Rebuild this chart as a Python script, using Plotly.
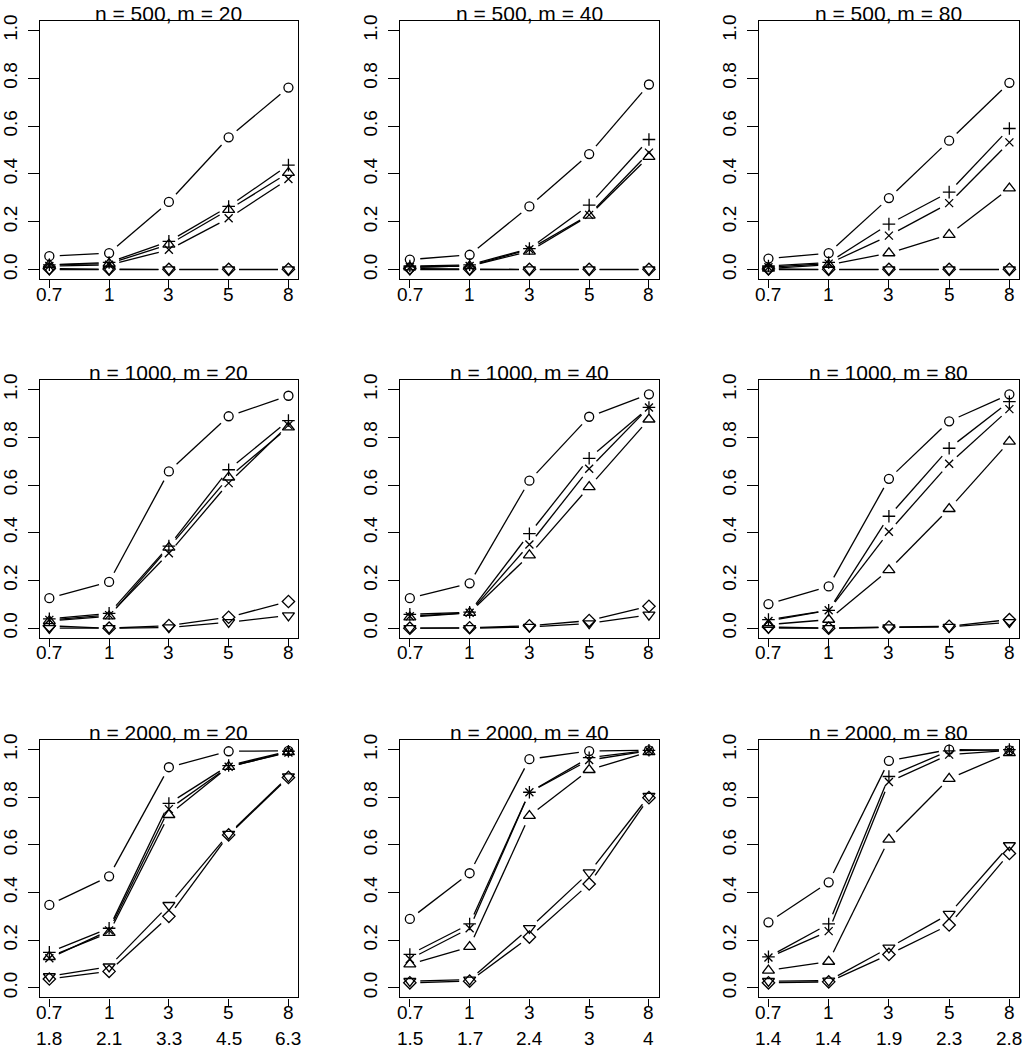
import plotly.graph_objects as go

# ---------------- data ----------------
x_labels = ["0.7", "1", "3", "5", "8"]
second_labels_m20 = ["1.8", "2.1", "3.3", "4.5", "6.3"]
second_labels_m40 = ["1.5", "1.7", "2.4", "3", "4"]
second_labels_m80 = ["1.4", "1.4", "1.9", "2.3", "2.8"]
y_ticks = [0.0, 0.2, 0.4, 0.6, 0.8, 1.0]
y_tick_labels = ["0.0", "0.2", "0.4", "0.6", "0.8", "1.0"]
n_values = [500, 1000, 2000]
m_values = [20, 40, 80]

n500_m20 = dict(
    circle=[0.056, 0.069, 0.283, 0.553, 0.761],
    plus=[0.020, 0.030, 0.118, 0.264, 0.437],
    cross=[0.015, 0.020, 0.083, 0.215, 0.379],
    tri_up=[0.020, 0.025, 0.105, 0.250, 0.405],
    diamond=[0.004, 0.002, 0.001, 0.001, 0.001],
    tri_down=[0.000, 0.000, 0.000, 0.000, 0.000],
)
n500_m40 = dict(
    circle=[0.042, 0.062, 0.264, 0.483, 0.774],
    plus=[0.015, 0.020, 0.088, 0.270, 0.544],
    cross=[0.010, 0.015, 0.085, 0.229, 0.489],
    tri_up=[0.010, 0.015, 0.076, 0.226, 0.472],
    diamond=[0.005, 0.002, 0.001, 0.001, 0.001],
    tri_down=[0.000, 0.000, 0.000, 0.000, 0.000],
)
n500_m80 = dict(
    circle=[0.046, 0.069, 0.299, 0.539, 0.781],
    plus=[0.015, 0.030, 0.190, 0.324, 0.590],
    cross=[0.010, 0.025, 0.142, 0.278, 0.532],
    tri_up=[0.005, 0.020, 0.069, 0.146, 0.340],
    diamond=[0.003, 0.001, 0.001, 0.001, 0.001],
    tri_down=[0.000, 0.000, 0.000, 0.000, 0.000],
)
n1000_m20 = dict(
    circle=[0.126, 0.194, 0.657, 0.888, 0.974],
    plus=[0.039, 0.062, 0.344, 0.664, 0.870],
    cross=[0.035, 0.055, 0.314, 0.608, 0.851],
    tri_up=[0.030, 0.050, 0.338, 0.632, 0.842],
    diamond=[0.010, 0.000, 0.011, 0.046, 0.112],
    tri_down=[0.000, 0.000, 0.003, 0.025, 0.053],
)
n1000_m40 = dict(
    circle=[0.126, 0.188, 0.618, 0.886, 0.980],
    plus=[0.058, 0.067, 0.396, 0.712, 0.925],
    cross=[0.050, 0.065, 0.351, 0.668, 0.925],
    tri_up=[0.046, 0.065, 0.306, 0.592, 0.875],
    diamond=[0.000, 0.002, 0.010, 0.032, 0.092],
    tri_down=[0.000, 0.000, 0.005, 0.020, 0.056],
)
n1000_m80 = dict(
    circle=[0.101, 0.175, 0.626, 0.867, 0.980],
    plus=[0.036, 0.075, 0.469, 0.754, 0.949],
    cross=[0.030, 0.075, 0.404, 0.689, 0.918],
    tri_up=[0.015, 0.036, 0.244, 0.500, 0.782],
    diamond=[0.005, 0.000, 0.005, 0.008, 0.036],
    tri_down=[0.000, 0.000, 0.003, 0.005, 0.025],
)
n2000_m20 = dict(
    circle=[0.348, 0.468, 0.926, 0.993, 0.995],
    plus=[0.149, 0.250, 0.774, 0.933, 0.993],
    cross=[0.124, 0.241, 0.750, 0.928, 0.988],
    tri_up=[0.130, 0.231, 0.726, 0.928, 0.990],
    diamond=[0.037, 0.069, 0.300, 0.642, 0.883],
    tri_down=[0.048, 0.089, 0.347, 0.646, 0.887],
)
n2000_m40 = dict(
    circle=[0.289, 0.481, 0.960, 0.994, 0.997],
    plus=[0.140, 0.268, 0.821, 0.966, 0.997],
    cross=[0.121, 0.250, 0.821, 0.956, 0.995],
    tri_up=[0.099, 0.172, 0.722, 0.915, 0.990],
    diamond=[0.021, 0.028, 0.213, 0.436, 0.798],
    tri_down=[0.028, 0.034, 0.250, 0.484, 0.805],
)
n2000_m80 = dict(
    circle=[0.275, 0.443, 0.953, 1.000, 0.997],
    plus=[0.130, 0.268, 0.887, 0.995, 1.000],
    cross=[0.127, 0.238, 0.864, 0.979, 0.997],
    tri_up=[0.073, 0.110, 0.623, 0.878, 0.986],
    diamond=[0.021, 0.025, 0.140, 0.264, 0.564],
    tri_down=[0.028, 0.030, 0.168, 0.310, 0.598],
)

panels = [
    [n500_m20, n500_m40, n500_m80],
    [n1000_m20, n1000_m40, n1000_m80],
    [n2000_m20, n2000_m40, n2000_m80],
]
second_labels = [second_labels_m20, second_labels_m40, second_labels_m80]

# ---------------- styling ----------------
W, H = 1022, 1050
col_px = [(33, 293), (396, 656), (757, 1019)]
row_px = [(15, 275), (376.5, 636), (739, 998)]
x_range = [0.84, 5.16]
y_range = [-0.04, 1.04]
FONT = "Liberation Sans, Arial, sans-serif"
TICK_SIZE = 19
TITLE_SIZE = 21
GAP = 10.5
LW = 1.3

marker_style = {
    "circle": dict(symbol="circle-open", size=9),
    "plus": dict(symbol="cross-thin-open", size=9),
    "cross": dict(symbol="x-thin-open", size=8),
    "tri_up": dict(symbol="triangle-up-open", size=10.5),
    "diamond": dict(symbol="diamond-open", size=9.5),
    "tri_down": dict(symbol="triangle-down-open", size=10.5),
}
series_order = ["circle", "plus", "cross", "tri_up", "diamond", "tri_down"]

fig = go.Figure()
layout = dict(
    width=W, height=H, margin=dict(l=0, r=0, t=0, b=0),
    paper_bgcolor="white", plot_bgcolor="white", showlegend=False,
    font=dict(family=FONT, color="black", size=TICK_SIZE),
)
annotations = []


def gapped(xs, ys, ppx, ppy, gap):
    sx, sy = [], []
    for i in range(len(xs) - 1):
        dx = (xs[i + 1] - xs[i]) * ppx
        dy = (ys[i + 1] - ys[i]) * ppy
        L = (dx * dx + dy * dy) ** 0.5
        if L <= 2 * gap:
            continue
        f = gap / L
        sx += [xs[i] + (xs[i + 1] - xs[i]) * f, xs[i + 1] - (xs[i + 1] - xs[i]) * f, None]
        sy += [ys[i] + (ys[i + 1] - ys[i]) * f, ys[i + 1] - (ys[i + 1] - ys[i]) * f, None]
    return sx, sy


x_idx = list(range(1, len(x_labels) + 1))
tick_font = dict(family=FONT, size=TICK_SIZE, color="black")

for r in range(3):
    for c in range(3):
        k = r * 3 + c + 1
        xa = "x" if k == 1 else f"x{k}"
        ya = "y" if k == 1 else f"y{k}"
        x0p, x1p = col_px[c]
        y0p, y1p = row_px[r]
        ppx = (x1p - x0p) / (x_range[1] - x_range[0])
        ppy = (y1p - y0p) / (y_range[1] - y_range[0])
        data = panels[r][c]
        for name in series_order:
            ys = data[name]
            sx, sy = gapped(x_idx, ys, ppx, ppy, GAP)
            fig.add_trace(go.Scatter(
                x=sx, y=sy, mode="lines", xaxis=xa, yaxis=ya,
                line=dict(color="black", width=LW), hoverinfo="skip",
            ))
            fig.add_trace(go.Scatter(
                x=x_idx, y=ys, mode="markers", xaxis=xa, yaxis=ya,
                marker=dict(color="black", line=dict(color="black", width=LW),
                            **marker_style[name]),
                name=name,
            ))
        axis_common = dict(
            showgrid=False, zeroline=False, showline=True, mirror=True,
            linecolor="black", linewidth=1.4, ticks="outside", tickcolor="black",
            tickwidth=1.4, tickfont=tick_font,
        )
        layout["xaxis" if k == 1 else f"xaxis{k}"] = dict(
            domain=[x0p / W, x1p / W], range=x_range, tickmode="array",
            tickvals=x_idx, ticktext=x_labels, ticklen=8, showticklabels=False,
            anchor=ya, **axis_common,
        )
        layout["yaxis" if k == 1 else f"yaxis{k}"] = dict(
            domain=[1 - y1p / H, 1 - y0p / H], range=y_range, tickmode="array",
            tickvals=y_ticks, ticktext=y_tick_labels, tickangle=-90, ticklen=11,
            ticklabelstandoff=3, anchor=xa, **axis_common,
        )
        annotations.append(dict(
            text=f"n = {n_values[r]}, m = {m_values[c]}",
            xref="paper", yref="paper", x=(x0p + x1p) / 2 / W, y=1 - y0p / H,
            xanchor="center", yanchor="bottom", yshift=-6, showarrow=False,
            font=dict(family=FONT, size=TITLE_SIZE, color="black"),
        ))
        # x tick labels (first row)
        for i, lab in enumerate(x_labels):
            annotations.append(dict(
                text=lab, xref=xa, yref=f"{ya} domain", x=x_idx[i], y=0,
                xanchor="center", yanchor="middle", yshift=-15,
                showarrow=False, font=tick_font,
            ))
        # second row of x labels on the bottom panels
        if r == 2:
            for i, lab in enumerate(second_labels[c]):
                annotations.append(dict(
                    text=lab, xref=xa, yref=f"{ya} domain", x=x_idx[i], y=0,
                    xanchor="center", yanchor="middle", yshift=-41,
                    showarrow=False, font=tick_font,
                ))

layout["annotations"] = annotations
fig.update_layout(**layout)
fig.write_html("out.html", config={"displayModeBar": False},
               post_script="document.body.style.margin='0';")
